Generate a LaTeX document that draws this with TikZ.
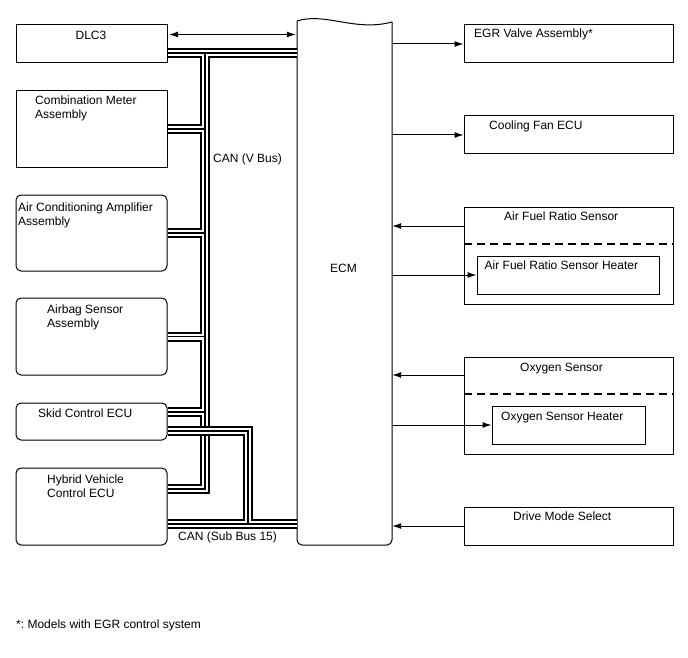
\documentclass[tikz,border=0pt]{standalone}
\usepackage{fontspec}
\setmainfont{Liberation Sans}
\frenchspacing
\usetikzlibrary{arrows.meta}
\begin{document}
\begin{tikzpicture}[x=1pt,y=-1pt,
  font=\fontsize{12}{14}\selectfont,
  box/.style={draw, line width=1pt, inner sep=0pt},
  rbox/.style={box, rounded corners=5pt},
  txt/.style={anchor=base west, inner sep=0pt},
  arr/.style={-{Latex[length=9pt,width=6pt]}, line width=1pt},
  cable/.style={line width=10pt, postaction={draw=white, line width=6pt}, postaction={draw=black, line width=1.3pt}},
  dsh/.style={line width=1.1pt, dash pattern=on 8pt off 5pt}]
\useasboundingbox (0,0) rectangle (688,658);
% left boxes
\node[box,  minimum width=151pt, minimum height=38pt] (dlc) at (91.5,44) {};
\node[box,  minimum width=151pt, minimum height=76pt] (cmb) at (91.5,129) {};
\node[rbox, minimum width=151pt, minimum height=76pt] (aca) at (91.5,233) {};
\node[rbox, minimum width=151pt, minimum height=77pt] (abg) at (91.5,336.5) {};
\node[rbox, minimum width=151pt, minimum height=37pt] (skd) at (91.5,421.5) {};
\node[rbox, minimum width=151pt, minimum height=77pt] (hvc) at (91.5,506.5) {};
% right boxes
\node[box, minimum width=209pt, minimum height=38pt] (egr) at (568.5,44) {};
\node[box, minimum width=209pt, minimum height=38pt] (cfn) at (568.5,135) {};
\node[box, minimum width=209pt, minimum height=97pt] (afr) at (568.5,255.5) {};
\node[box, minimum width=182pt, minimum height=38pt] (afh) at (568,275) {};
\node[box, minimum width=209pt, minimum height=97pt] (o2s) at (568.5,405.5) {};
\node[box, minimum width=153pt, minimum height=38pt] (o2h) at (568.5,425) {};
\node[box, minimum width=209pt, minimum height=38pt] (dms) at (568.5,526) {};
% ECM
\node[inner sep=0pt, minimum width=95pt, minimum height=524pt] (ecm) at (344.5,283) {};
\draw[line width=1pt, rounded corners=5pt] (297,21) -- (297,545) -- (392,545) -- (392,22);
\draw[line width=1pt] (297,21) .. controls (325,12) and (355,32) .. (392,22);
% dashed separators
\coordinate (afd) at (464,244);
\coordinate (o2d) at (464,394);
\draw[dsh] (afd) -- (afr.east |- afd);
\draw[dsh] (o2d) -- (o2s.east |- o2d);
% CAN V bus
\coordinate (vtop) at (205,53);
\coordinate (vbot) at (205,489);
\coordinate (skv) at (205,412);
\draw[cable] (dlc.east |- vtop) -- (ecm.west |- vtop)
  (vtop) -- (vbot) -- (hvc.east |- vbot)
  (cmb.east) -- (cmb.east -| vtop)
  (aca.east) -- (aca.east -| vtop)
  (abg.east) -- (abg.east -| vtop)
  (skd.east |- skv) -- (skv);
% CAN sub bus
\coordinate (s1) at (248,431);
\coordinate (s2) at (248,524);
\draw[cable] (skd.east |- s1) -- (s1) -- (s2)
  (hvc.east |- s2) -- (ecm.west |- s2);
% arrows
\coordinate (dla) at (167,34.5);
\draw[line width=1pt, {Latex[length=9pt,width=6pt]}-{Latex[length=9pt,width=6pt]}, shorten <=2pt, shorten >=1pt] (dla) -- (ecm.west |- dla);
\draw[arr] (ecm.east |- egr.west) -- (egr.west);
\draw[arr] (ecm.east |- cfn.west) -- (cfn.west);
\coordinate (afro) at (464,226);
\draw[arr] (afro) -- (ecm.east |- afro);
\draw[arr] (ecm.east |- afh.west) -- (afh.west);
\coordinate (o2o) at (464,375);
\draw[arr] (o2o) -- (ecm.east |- o2o);
\draw[arr] (ecm.east |- o2h.west) -- (o2h.west);
\draw[arr] (dms.west) -- (ecm.east |- dms.west);
% texts
\node[anchor=base, inner sep=0pt] (tdlc) at (91,40) {DLC3};
\node[txt] (tcm1) at (35,105) {Combination Meter};
\node[txt] (tcm2) at (35,119) {Assembly};
\node[txt] (tac1) at (18,211) {Air Conditioning Amplifier};
\node[txt] (tac2) at (18,225) {Assembly};
\node[txt] (tab1) at (47,313) {Airbag Sensor};
\node[txt] (tab2) at (47,327) {Assembly};
\node[txt] (tsk) at (38,417) {Skid Control ECU};
\node[txt] (thv1) at (47,483) {Hybrid Vehicle};
\node[txt] (thv2) at (47,497) {Control ECU};
\node[txt] (tegr) at (474,38) {EGR Valve Assembly*};
\node[txt] (tcf) at (489,130) {Cooling Fan ECU};
\node[txt] (taf) at (504,220.5) {Air Fuel Ratio Sensor};
\node[txt] (tafh) at (484.5,269) {Air Fuel Ratio Sensor Heater};
\node[txt] (to2) at (520,371) {Oxygen Sensor};
\node[txt] (to2h) at (501,420) {Oxygen Sensor Heater};
\node[txt] (tdm) at (513,520) {Drive Mode Select};
\node[txt] (tcv) at (213,162.5) {CAN (V Bus)};
\node[anchor=base, inner sep=0pt] (tecm) at (343.5,272) {ECM};
\node[txt] (tcs) at (178,540.5) {CAN (Sub Bus 15)};
\node[txt] (tfn) at (16,628) {*: Models with EGR control system};
\end{tikzpicture}
\end{document}
